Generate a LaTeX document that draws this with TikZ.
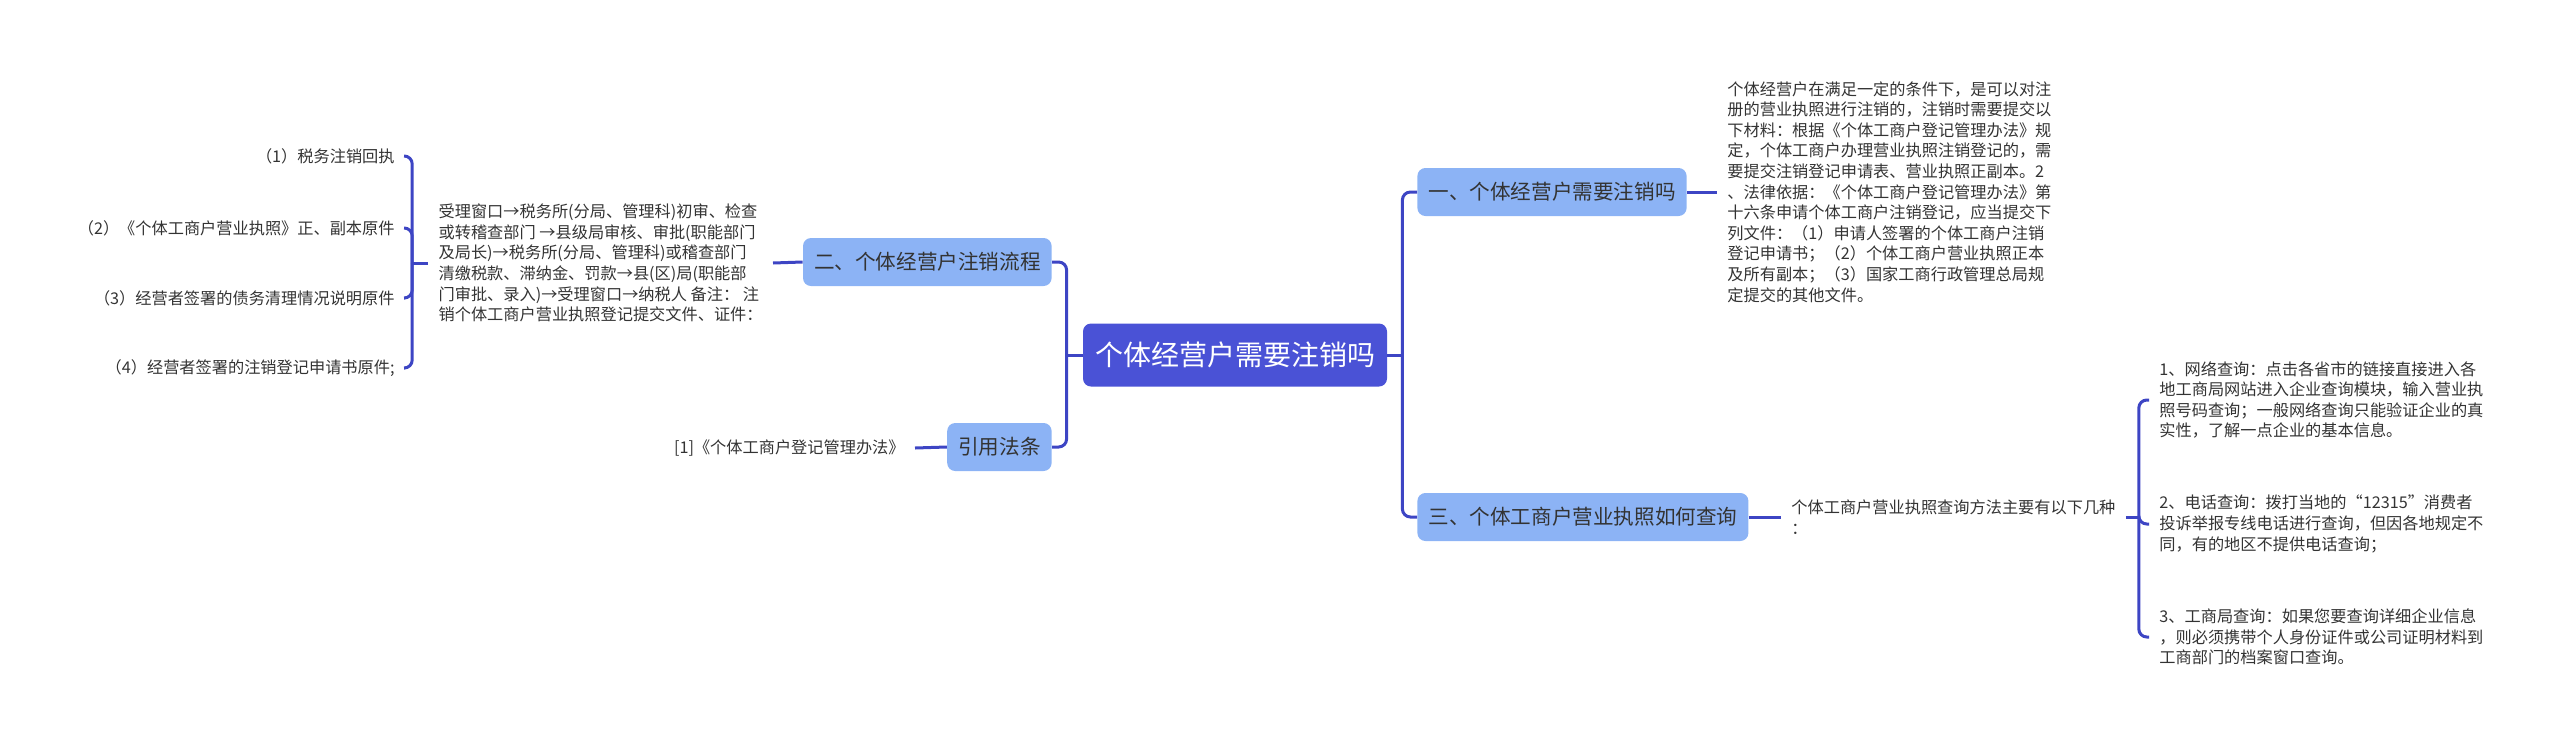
\documentclass[tikz,border=0pt]{standalone}
\usepackage{fontspec}
\setmainfont{Noto Sans CJK SC}
\definecolor{trunk}{HTML}{3D45C4}
\definecolor{rootfill}{HTML}{4A52D6}
\definecolor{boxfill}{HTML}{8CB3F5}
\definecolor{ink}{HTML}{333333}

\begin{document}
\begin{tikzpicture}[x=0.5pt, y=-0.5pt,
  link/.style={draw=trunk, line width=1.5pt, rounded corners=4pt},
  rootbox/.style={fill=rootfill, rounded corners=4pt, text=white,
    font=\fontsize{14}{17}\selectfont, minimum height=31.5pt,
    minimum width=152pt, inner xsep=1pt},
  branch/.style={fill=boxfill, rounded corners=4pt, text=ink,
    font=\fontsize{10.3}{12}\selectfont, minimum height=24pt, inner xsep=5.5pt},
  textblock/.style={text=ink, font=\fontsize{8.1}{10.3}\selectfont,
    inner xsep=5pt, inner ysep=0pt, align=left},
]
  \useasboundingbox (0,0) rectangle (2560,745);

  \node[rootbox] (root) at (1235,355) {个体经营户需要注销吗};
  \node[branch, anchor=west] (b1) at (1417,192) {一、个体经营户需要注销吗};
  \node[branch, anchor=west] (b3) at (1417,517) {三、个体工商户营业执照如何查询};
  \node[branch, anchor=east] (b2) at (1052,262) {二、个体经营户注销流程};
  \node[branch, anchor=east] (cite) at (1052,447) {引用法条};

  \node[textblock, anchor=west] (t1) at (1717,192) {%
    个体经营户在满足一定的条件下，是可以对注\\
    册的营业执照进行注销的，注销时需要提交以\\
    下材料：根据《个体工商户登记管理办法》规\\
    定，个体工商户办理营业执照注销登记的，需\\
    要提交注销登记申请表、营业执照正副本。2\\
    、法律依据：《个体工商户登记管理办法》第\\
    十六条申请个体工商户注销登记，应当提交下\\
    列文件：（1）申请人签署的个体工商户注销\\
    登记申请书；（2）个体工商户营业执照正本\\
    及所有副本；（3）国家工商行政管理总局规\\
    定提交的其他文件。};

  \node[textblock, anchor=east] (t2) at (773,263) {%
    受理窗口→税务所(分局、管理科)初审、检查\\
    或转稽查部门 →县级局审核、审批(职能部门\\
    及局长)→税务所(分局、管理科)或稽查部门\\
    清缴税款、滞纳金、罚款→县(区)局(职能部\\
    门审批、录入)→受理窗口→纳税人 备注： 注\\
    销个体工商户营业执照登记提交文件、证件：};

  \node[textblock, anchor=east] (p1) at (405,156) {（1）税务注销回执};
  \node[textblock, anchor=east] (p2) at (405,228) {（2）《个体工商户营业执照》正、副本原件};
  \node[textblock, anchor=east] (p3) at (405,298) {（3）经营者签署的债务清理情况说明原件};
  \node[textblock, anchor=east] (p4) at (405,368) {（4）经营者签署的注销登记申请书原件;};

  \node[textblock, anchor=east] (law) at (915,448) {[1]《个体工商户登记管理办法》};

  \node[textblock, anchor=west] (t3) at (1781,517) {%
    个体工商户营业执照查询方法主要有以下几种\\
    ：};

  \node[textblock, anchor=west] (q1) at (2149,400) {%
    1、网络查询：点击各省市的链接直接进入各\\
    地工商局网站进入企业查询模块，输入营业执\\
    照号码查询；一般网络查询只能验证企业的真\\
    实性，了解一点企业的基本信息。};
  \node[textblock, anchor=west] (q2) at (2149,524) {%
    2、电话查询：拨打当地的“12315”消费者\\
    投诉举报专线电话进行查询，但因各地规定不\\
    同，有的地区不提供电话查询；};
  \node[textblock, anchor=west] (q3) at (2149,637) {%
    3、工商局查询：如果您要查询详细企业信息\\
    ，则必须携带个人身份证件或公司证明材料到\\
    工商部门的档案窗口查询。};

  \coordinate (rj) at ([xshift=7.5pt]root.east);
  \coordinate (lj) at ([xshift=-8pt]root.west);
  \coordinate (pj) at ([xshift=-8pt]t2.west);
  \coordinate (qj) at ([xshift=6.5pt]t3.east);

  \draw[link] (root.east) -- (rj);
  \draw[link] (rj) |- (b1.west);
  \draw[link] (rj) |- (b3.west);
  \draw[link] (root.west) -- (lj);
  \draw[link] (lj) |- (b2.east);
  \draw[link] (lj) |- (cite.east);

  \draw[link] (b1.east) -- (t1.west);
  \draw[link] (b2.west) -- (t2.east);
  \draw[link] (cite.west) -- (law.east);
  \draw[link] (b3.east) -- (t3.west);

  \draw[link] (t2.west) -- (pj);
  \draw[link] (pj) |- (p1.east);
  \draw[link] (pj) |- (p2.east);
  \draw[link] (pj) |- (p3.east);
  \draw[link] (pj) |- (p4.east);

  \draw[link] (t3.east) -- (qj);
  \draw[link] (qj) |- (q1.west);
  \draw[link] (qj) |- (q2.west);
  \draw[link] (qj) |- (q3.west);
\end{tikzpicture}
\end{document}
